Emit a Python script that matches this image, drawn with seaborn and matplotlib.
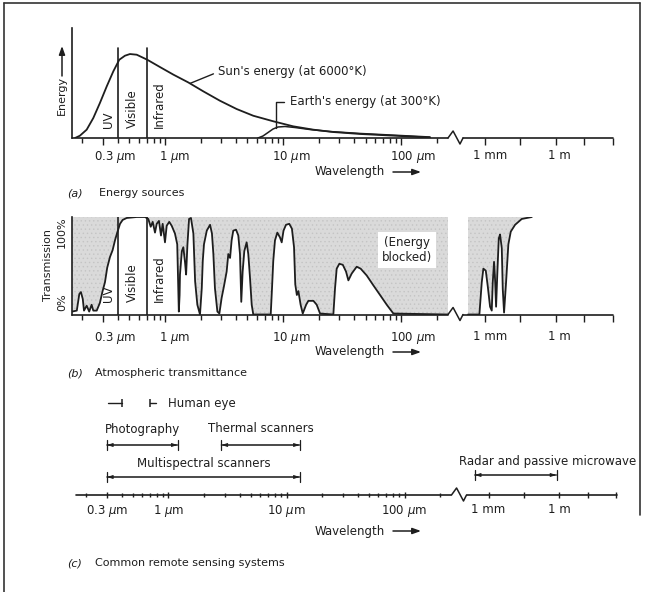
import numpy as np
import matplotlib
matplotlib.use("Agg")
import matplotlib.pyplot as plt
import seaborn as sns
from matplotlib.lines import Line2D
from matplotlib.transforms import blended_transform_factory, ScaledTranslation

W, H = 653, 592

# (a) energy sources: wavelength (um) and energy relative to the sun's peak (=100)
sun_wl = [0.173, 0.190, 0.217, 0.247, 0.281, 0.321, 0.365, 0.410, 0.458, 0.505,
          0.576, 0.708, 0.907, 1.18, 1.57, 2.11, 2.92, 4.05, 5.60, 8.27,
          12.2, 18.1, 26.7, 45, 98, 176]
sun_energy = [0, 2.7, 9.9, 23.8, 41.7, 61.5, 79.4, 93.2, 98, 100,
              99.2, 93.2, 84.5, 75.4, 66.3, 55.6, 44.4, 34.5, 26.5, 19.9,
              13.9, 9.9, 7.1, 4.8, 2.4, 0.6]
earth_wl = [6.14, 6.77, 7.46, 8.23, 9.07, 10.4, 12.6, 16.9, 25.0, 45, 98, 176]
earth_energy = [0, 2.4, 6.5, 10.7, 13.1, 13.7, 12.5, 10.1, 7.7, 5.4, 3.0, 1.2]

# (b) atmospheric transmittance (%), optical/IR part and microwave part
trans_wl = [0.163, 0.179, 0.188, 0.194, 0.201, 0.206, 0.217, 0.228, 0.239, 0.247,
            0.264, 0.281, 0.296, 0.310, 0.324, 0.342, 0.360, 0.377, 0.394, 0.416,
            0.438, 0.474, 0.576, 0.677, 0.722, 0.757, 0.787, 0.823, 0.851, 0.889,
            0.925, 0.956, 1.0, 1.034, 1.087, 1.14, 1.215, 1.27, 1.31, 1.33,
            1.34, 1.39, 1.43, 1.48, 1.51, 1.55, 1.60, 1.66, 1.74, 1.80,
            1.88, 1.98, 2.05, 2.09, 2.14, 2.26, 2.41, 2.50, 2.57, 2.65,
            2.78, 2.89, 3.02, 3.16, 3.33, 3.44, 3.56, 3.67, 3.79, 4.00,
            4.18, 4.32, 4.43, 4.55, 4.70, 4.92, 5.08, 5.25, 5.43, 5.60,
            7.87, 8.07, 8.27, 8.55, 8.95, 9.43, 9.75, 10.1, 10.6, 11.3,
            11.9, 12.4, 12.7, 13.1, 13.5, 14.1, 14.7, 15.7, 16.4, 18.1,
            19.3, 20.6, 26.7, 27.6, 28.5, 30.0, 32.1, 34.2, 35.8, 38.2,
            42.1, 45.5, 51.2, 58.2, 66.4, 75.7, 86.1, 250]
trans_pct = [3, 4, 21, 23, 16, 4, 9, 3, 10, 4,
             4, 12, 24, 33, 48, 59, 66, 76, 84, 93,
             97, 99, 100, 100, 98, 90, 95, 84, 93, 96,
             81, 93, 74, 91, 95, 91, 83, 72, 3, 20,
             41, 65, 69, 53, 41, 72, 98, 99, 83, 34,
             10, 0, 27, 55, 72, 86, 92, 83, 62, 27,
             3, 1, 17, 29, 44, 62, 58, 76, 86, 87,
             81, 62, 13, 44, 65, 74, 62, 38, 10, 0,
             0, 27, 55, 76, 84, 79, 74, 86, 92, 93,
             88, 69, 31, 20, 24, 10, 1, 10, 14, 14,
             10, 1, 0, 27, 47, 52, 51, 44, 35, 42,
             49, 47, 40, 30, 20, 10, 1, 0]
micro_wl = [398, 735, 836, 912, 1071, 1300, 1630, 1920, 2120, 2400,
            2650, 2930, 3320, 3810, 4320, 5100, 5620, 6380, 7760, 9710,
            12270, 18670, 35900, 95300]
micro_pct = [0, 0, 33, 47, 45, 29, 8, 4, 33, 54,
             36, 8, 43, 78, 82, 68, 26, 2, 33, 72,
             85, 92, 98, 100]

# (c) remote sensing systems, wavelength ranges (um)
systems = ["Photography", "Thermal scanners", "Multispectral scanners",
           "Radar and passive microwave"]
sys_lo = [0.3, 2.8, 0.3, 470]
sys_hi = [1.2, 13, 13, 7.6e5]
eye_lo, eye_hi = 0.4, 0.7
uv_edge, ir_edge = 0.4, 0.7

# wavelength axis
major_wl = [0.3, 1, 10, 100, 1e3, 10**4.5, 1e6, 10**7.2, 10**8.4]
major_lab = [r"0.3 $\mu$m", r"1 $\mu$m", r"10 $\mu$m", r"100 $\mu$m", "1 mm", "", "1 m", "", ""]
minor_wl = [0.2, 0.4, 0.5, 0.6, 0.7, 0.8, 0.9, 2, 3, 4, 5, 6, 7, 8, 9,
            20, 30, 40, 50, 60, 70, 80, 90, 200]

# layout (not data)
LABEL_DX = [12, 10, 8, 12, 5, 0, 3, 0, 0]
BREAK_WL = [250, 281, 330, 354]
XMIN, XMAX = 0.163, 10**8.42
LW_KNOTS = [-3.0, 2.4, 2.6, 3.0, 9.0]
POS_KNOTS = [-3.0, 2.4, 2.568, 2.712, 3.912]
sys_row = [50, 50, 18, 20]
sys_text_row = [65, 66, 32, 34]


def fwd(w):
    return np.interp(np.log10(np.maximum(w, 1e-6)), LW_KNOTS, POS_KNOTS)


def inv(p):
    return 10 ** np.interp(p, POS_KNOTS, LW_KNOTS)


sns.set_theme(style="white")
plt.rcParams["font.family"] = ["DejaVu Sans"]
plt.rcParams["mathtext.fontset"] = "dejavusans"
plt.rcParams["hatch.linewidth"] = 0.5
INK = "#1e1e1e"
GRAY = "#dadada"
FS = 8.5

fig = plt.figure(figsize=(W / 100, H / 100), dpi=100)
fig.patch.set_facecolor("white")


def box(x0, ytop, x1, ybot):
    return [x0 / W, 1 - ybot / H, (x1 - x0) / W, (ybot - ytop) / H]


def ftext(x, y, s, **kw):
    kw.setdefault("color", INK)
    kw.setdefault("fontsize", FS)
    fig.text(x / W, 1 - y / H, s, **kw)


def farrow(x0, x1, y0, y1):
    fig.add_artist(matplotlib.patches.FancyArrowPatch(
        (x0 / W, 1 - y0 / H), (x1 / W, 1 - y1 / H), transform=fig.transFigure,
        arrowstyle="-|>,head_length=5,head_width=1.8", lw=1.1, color=INK,
        shrinkA=0, shrinkB=0))


def wavelength_axis(ax, pad):
    ax.set_xscale("function", functions=(fwd, inv))
    ax.set_xlim(XMIN, XMAX)
    ax.set_facecolor("none")
    ax.set_yticks([])
    for s in ["top", "right", "bottom"]:
        ax.spines[s].set_visible(False)
    ax.spines["left"].set_color(INK)
    ax.spines["left"].set_linewidth(1.2)
    ax.set_xticks(major_wl, major_lab)
    ax.set_xticks(minor_wl, minor=True)
    ax.tick_params(axis="x", which="major", bottom=True, direction="out", length=5,
                   width=1, color=INK, pad=pad, labelsize=FS, labelcolor=INK)
    ax.tick_params(axis="x", which="minor", bottom=True, direction="out", length=3.5,
                   width=1, color=INK)
    for lab, dx in zip(ax.get_xticklabels(), LABEL_DX):
        lab.set_transform(lab.get_transform() + ScaledTranslation(dx / 100, 0, fig.dpi_scale_trans))
    ax.plot([XMIN, BREAK_WL[0]], [0, 0], color=INK, lw=1.2, clip_on=False)
    ax.plot([BREAK_WL[-1], XMAX], [0, 0], color=INK, lw=1.2, clip_on=False)
    h_px = ax.get_position().height * H
    tr = blended_transform_factory(ax.transData, ax.transAxes)
    ax.plot(BREAK_WL, np.array([0, 7, -6, 0]) / h_px, transform=tr, color=INK,
            lw=1.1, clip_on=False)


def band_labels(ax, ybot, top):
    tr = ax.get_xaxis_transform()
    for x, s in [(0.33, "UV"), (0.53, "Visible"), (0.90, "Infrared")]:
        ax.text(x, ybot, s, transform=tr, rotation=90, ha="center", va="bottom",
                fontsize=FS, color=INK)
    for x in (uv_edge, ir_edge):
        ax.axvline(x, 0, top, color=INK, lw=1.2)


# ---------------- (a) energy sources
ax_a = fig.add_axes(box(72, 28, 613, 138))
ax_a.set_ylim(0, 131)
wavelength_axis(ax_a, pad=3)
sns.lineplot(x=sun_wl, y=sun_energy, ax=ax_a, color=INK, lw=1.3, sort=False)
sns.lineplot(x=earth_wl, y=earth_energy, ax=ax_a, color=INK, lw=1.1, sort=False)
band_labels(ax_a, 0.09, 0.82)
ax_a.annotate("Sun's energy (at 6000°K)", xy=(1.63, 65), xytext=(218, H - 72),
              textcoords="figure pixels", ha="left", va="center", fontsize=FS, color=INK,
              arrowprops=dict(arrowstyle="-", color=INK, lw=1, relpos=(0, 0.5),
                              shrinkA=1, shrinkB=0))
ax_a.annotate("Earth's energy (at 300°K)", xy=(8.72, 12), xytext=(290, H - 101.5),
              textcoords="figure pixels", ha="left", va="center", fontsize=FS, color=INK,
              arrowprops=dict(arrowstyle="-", color=INK, lw=1, relpos=(0, 0.5),
                              shrinkA=2, shrinkB=0,
                              connectionstyle="angle,angleA=0,angleB=90,rad=0"))
ftext(62, 95, "Energy", rotation=90, ha="center", va="center", fontsize=8)
farrow(62, 62, 76, 46)

# ---------------- (b) atmospheric transmittance
ax_b = fig.add_axes(box(72, 217, 613, 314.5))
ax_b.set_ylim(0, 100)
wavelength_axis(ax_b, pad=6)
ax_b.fill_between(trans_wl, trans_pct, 100, facecolor=GRAY, edgecolor="#c4c4c4",
                  hatch="....", lw=0)
ax_b.fill_between(micro_wl, micro_pct, 100, facecolor=GRAY, edgecolor="#c4c4c4",
                  hatch="....", lw=0)
sns.lineplot(x=trans_wl, y=trans_pct, ax=ax_b, color=INK, lw=1.3, sort=False)
sns.lineplot(x=micro_wl, y=micro_pct, ax=ax_b, color=INK, lw=1.3, sort=False)
band_labels(ax_b, 0.13, 1.0)
ax_b.text(112, 66, "(Energy\nblocked)", ha="center", va="center", fontsize=FS, color=INK,
          bbox=dict(boxstyle="square,pad=0.35", fc="white", ec="none"))
ftext(48, 265, "Transmission", rotation=90, ha="center", va="center", fontsize=8)
ftext(62, 232, "100%", rotation=90, ha="center", va="center", fontsize=8)
ftext(62, 302, "0%", rotation=90, ha="center", va="center", fontsize=8)

# ---------------- (c) remote sensing systems
ax_c = fig.add_axes(box(75.5, 395, 616.5, 495))
ax_c.set_ylim(0, 100)
wavelength_axis(ax_c, pad=3)
ax_c.spines["left"].set_visible(False)
ax_c.tick_params(axis="x", which="both", direction="inout")
for name, lo, hi, row, trow in zip(systems, sys_lo, sys_hi, sys_row, sys_text_row):
    ax_c.annotate("", xy=(hi, row), xytext=(lo, row),
                  arrowprops=dict(arrowstyle="|-|,widthA=0.3,widthB=0.3", color=INK,
                                  lw=0.9, shrinkA=0, shrinkB=0))
    ax_c.annotate("", xy=(hi, row), xytext=(lo, row),
                  arrowprops=dict(arrowstyle="<|-|>,head_length=0.3,head_width=0.09",
                                  color=INK, lw=0.6, shrinkA=0, shrinkB=0))
    if name.startswith("Radar"):
        ax_c.annotate(name, xy=(lo, trow), xytext=(-11, 0), textcoords="offset points",
                      ha="left", va="center", fontsize=FS, color=INK)
    else:
        ax_c.text(np.sqrt(lo * hi), trow, name, ha="center", va="center", fontsize=FS,
                  color=INK)
eye_row = 92
ax_c.plot([eye_lo / 1.3, eye_lo], [eye_row, eye_row], color=INK, lw=1)
ax_c.plot([eye_hi, eye_hi * 1.13], [eye_row, eye_row], color=INK, lw=1)
ax_c.plot([eye_lo, eye_hi], [eye_row, eye_row], ls="none", marker="|", ms=6, mew=1.1,
          color=INK)
ax_c.annotate("Human eye", xy=(eye_hi * 1.13, eye_row), xytext=(8, 0),
              textcoords="offset points", ha="left", va="center", fontsize=FS, color=INK)

# ---------------- axis titles and captions
for y in (172, 352, 531):
    ftext(315, y, "Wavelength", ha="left", va="center")
    farrow(393, 421, y, y)
for y, tag, cap, x in [(193, "(a)", "Energy sources", 99),
                       (373, "(b)", "Atmospheric transmittance", 95),
                       (563, "(c)", "Common remote sensing systems", 95)]:
    ftext(67, y, tag, ha="left", va="center", style="italic", fontsize=8)
    ftext(x, y, cap, ha="left", va="center", fontsize=8)

# page frame of the scanned box (the right edge fades out near the bottom)
for xs, ys in [([4, 4], [3, 592]), ([4, 640], [3, 3]), ([640, 640], [3, 515])]:
    fig.add_artist(Line2D([x / W for x in xs], [1 - y / H for y in ys],
                          transform=fig.transFigure, lw=1.2, color="#333333"))

fig.savefig("out.png", dpi=100)
